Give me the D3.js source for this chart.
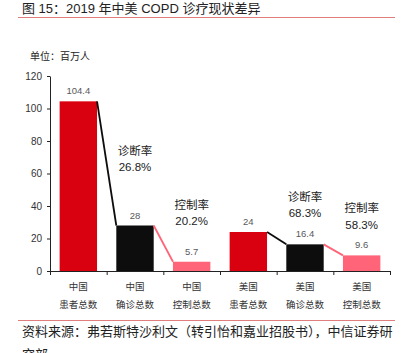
<!DOCTYPE html>
<html>
<head>
<meta charset="utf-8">
<script src="https://cdn.jsdelivr.net/npm/d3@7/dist/d3.min.js"></script>
<style>
  html, body { margin: 0; padding: 0; background: #fff; }
  svg { display: block; font-family: "Liberation Sans", "Noto Sans CJK SC", sans-serif; }
</style>
</head>
<body>
<div id="chart"></div>
<script>
(function () {
  "use strict";

  // --- data ---
  var countries = ["中国", "中国", "中国", "美国", "美国", "美国"];
  var kinds = ["患者总数", "确诊总数", "控制总数", "患者总数", "确诊总数", "控制总数"];
  var values = [104.4, 28, 5.7, 24, 16.4, 9.6];
  var valueLabels = ["104.4", "28", "5.7", "24", "16.4", "9.6"];
  var rateNames = ["诊断率", "控制率", "诊断率", "控制率"];
  var rateValues = ["26.8%", "20.2%", "68.3%", "58.3%"];
  var rateBar = [1, 2, 4, 5];          // bar the rate sits above
  var rateAnchor = [64, 30.5, 35.5, 28.5]; // height (million) of the second text line
  var yTicks = [0, 20, 40, 60, 80, 100, 120];

  var COL = { red: "#d9000f", black: "#0d0d0d", pink: "#ff6478", rule: "#e07d7d", ink: "#333", soft: "#595959" };
  var barColor = [COL.red, COL.black, COL.pink, COL.red, COL.black, COL.pink];

  var W = 402, H = 353;
  var m = { left: 50, right: 12, top: 76, bottom: 82 };
  var ih = H - m.top - m.bottom;

  var svg = d3.select("#chart").append("svg").attr("width", W).attr("height", H);

  // title + rules
  svg.append("text").attr("x", 22).attr("y", 13).attr("font-size", 13).attr("fill", "#222")
    .text("图 15：2019 年中美 COPD 诊疗现状差异");
  svg.append("line").attr("x1", 18).attr("x2", 395).attr("y1", 17.5).attr("y2", 17.5)
    .attr("stroke", COL.rule).attr("stroke-width", 1.2);
  svg.append("text").attr("x", 30).attr("y", 60).attr("font-size", 10).attr("fill", "#222")
    .text("单位：百万人");

  var g = svg.append("g").attr("transform", "translate(" + m.left + "," + m.top + ")");

  var idx = d3.range(values.length);
  var x = d3.scaleBand().domain(idx).range([0, 340]).paddingInner(0.34).paddingOuter(0.17);
  var xb = d3.scaleLinear().domain([0, values.length]).range([0, 340]);
  var y = d3.scaleLinear().domain([0, 120]).range([ih, 0]);

  // bars
  g.selectAll("rect.bar").data(idx).enter().append("rect")
    .attr("x", function (i) { return x(i); })
    .attr("y", function (i) { return y(values[i]); })
    .attr("width", x.bandwidth())
    .attr("height", function (i) { return ih - y(values[i]); })
    .attr("fill", function (i) { return barColor[i]; });

  // connectors: top-right of one bar to top-left of the next
  var links = [[0, 1, COL.black], [1, 2, COL.pink], [3, 4, COL.black], [4, 5, COL.pink]];
  g.selectAll("line.link").data(links).enter().append("line")
    .attr("x1", function (d) { return x(d[0]) + x.bandwidth(); })
    .attr("y1", function (d) { return y(values[d[0]]); })
    .attr("x2", function (d) { return x(d[1]); })
    .attr("y2", function (d) { return y(values[d[1]]); })
    .attr("stroke", function (d) { return d[2]; })
    .attr("stroke-width", 1.8);

  // value labels
  g.selectAll("text.val").data(idx).enter().append("text")
    .attr("x", function (i) { return x(i) + x.bandwidth() / 2; })
    .attr("y", function (i) { return y(values[i]) - 7; })
    .attr("text-anchor", "middle").attr("font-size", 9.5).attr("fill", COL.soft)
    .text(function (i) { return valueLabels[i]; });

  // rate annotations
  var rates = g.selectAll("g.rate").data(d3.range(rateNames.length)).enter().append("g")
    .attr("transform", function (k) {
      return "translate(" + (x(rateBar[k]) + x.bandwidth() / 2) + "," + y(rateAnchor[k]) + ")";
    })
    .attr("text-anchor", "middle").attr("font-size", 11.5).attr("fill", "#222");
  rates.append("text").attr("y", -12.5).text(function (k) { return rateNames[k]; });
  rates.append("text").attr("y", 4).text(function (k) { return rateValues[k]; });

  // axes
  var ya = g.append("g").call(d3.axisLeft(y).tickValues(yTicks).tickSize(3).tickPadding(5).tickSizeOuter(0));
  ya.selectAll("text").attr("font-size", 10).attr("fill", COL.ink).attr("font-family", "Liberation Sans, sans-serif");
  ya.selectAll("line, path").attr("stroke", "#222");

  var xa = g.append("g").attr("transform", "translate(0," + ih + ")")
    .call(d3.axisBottom(xb).tickValues(d3.range(values.length + 1)).tickFormat("").tickSize(4).tickSizeOuter(0));
  xa.selectAll("line, path").attr("stroke", "#222");

  // category labels
  var cats = g.selectAll("g.cat").data(idx).enter().append("g")
    .attr("transform", function (i) { return "translate(" + (x(i) + x.bandwidth() / 2) + "," + ih + ")"; })
    .attr("text-anchor", "middle").attr("font-size", 9.5).attr("fill", COL.ink)
    .attr("font-family", "Noto Sans CJK SC, sans-serif");
  cats.append("text").attr("y", 19).text(function (i) { return countries[i]; });
  cats.append("text").attr("y", 37).text(function (i) { return kinds[i]; });

  // source
  svg.append("line").attr("x1", 18).attr("x2", 395).attr("y1", 320.5).attr("y2", 320.5)
    .attr("stroke", COL.rule).attr("stroke-width", 1.2);
  svg.append("text").attr("x", 22).attr("y", 336).attr("font-size", 13).attr("fill", "#222")
    .attr("font-family", "Noto Sans CJK SC, sans-serif")
    .text("资料来源：弗若斯特沙利文（转引怡和嘉业招股书），中信证券研");
  svg.append("text").attr("x", 22).attr("y", 359).attr("font-size", 13).attr("fill", "#222")
    .attr("font-family", "Noto Sans CJK SC, sans-serif")
    .text("究部");
})();
</script>
</body>
</html>
